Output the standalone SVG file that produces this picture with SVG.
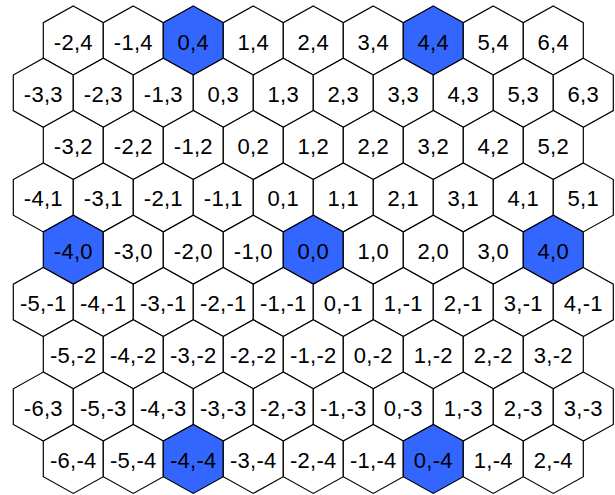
<svg xmlns="http://www.w3.org/2000/svg" xmlns:xlink="http://www.w3.org/1999/xlink" width="615" height="495" viewBox="0 0 615 495">
<style>
.h{fill:#ffffff;stroke:#000000;stroke-width:1.2;stroke-linejoin:miter}
.b{fill:#3366ff}
text{font-family:"Liberation Sans",Arial,sans-serif;font-size:22px;letter-spacing:0.3px;fill:#000000;text-anchor:middle}
</style>
<defs>
<polygon id="hex" points="0,-34.5 30,-17.8 30,17.8 0,34.5 -30,17.8 -30,-17.8"/>
</defs>
<rect width="615" height="495" fill="#ffffff"/>
<g id="connectors"></g>
<g id="row0">
<g id="n_m2_4" transform="translate(73.3,40.5)"><use class="h" xlink:href="#hex"/><text y="9">-2,4</text></g>
<g id="n_m1_4" transform="translate(133.3,40.5)"><use class="h" xlink:href="#hex"/><text y="9">-1,4</text></g>
<g id="n_0_4" transform="translate(193.3,40.5)"><use class="h b" xlink:href="#hex"/><text y="9">0,4</text></g>
<g id="n_1_4" transform="translate(253.3,40.5)"><use class="h" xlink:href="#hex"/><text y="9">1,4</text></g>
<g id="n_2_4" transform="translate(313.3,40.5)"><use class="h" xlink:href="#hex"/><text y="9">2,4</text></g>
<g id="n_3_4" transform="translate(373.3,40.5)"><use class="h" xlink:href="#hex"/><text y="9">3,4</text></g>
<g id="n_4_4" transform="translate(433.3,40.5)"><use class="h b" xlink:href="#hex"/><text y="9">4,4</text></g>
<g id="n_5_4" transform="translate(493.3,40.5)"><use class="h" xlink:href="#hex"/><text y="9">5,4</text></g>
<g id="n_6_4" transform="translate(553.3,40.5)"><use class="h" xlink:href="#hex"/><text y="9">6,4</text></g>
</g>
<g id="row1">
<g id="n_m3_3" transform="translate(43.3,92.8)"><use class="h" xlink:href="#hex"/><text y="9">-3,3</text></g>
<g id="n_m2_3" transform="translate(103.3,92.8)"><use class="h" xlink:href="#hex"/><text y="9">-2,3</text></g>
<g id="n_m1_3" transform="translate(163.3,92.8)"><use class="h" xlink:href="#hex"/><text y="9">-1,3</text></g>
<g id="n_0_3" transform="translate(223.3,92.8)"><use class="h" xlink:href="#hex"/><text y="9">0,3</text></g>
<g id="n_1_3" transform="translate(283.3,92.8)"><use class="h" xlink:href="#hex"/><text y="9">1,3</text></g>
<g id="n_2_3" transform="translate(343.3,92.8)"><use class="h" xlink:href="#hex"/><text y="9">2,3</text></g>
<g id="n_3_3" transform="translate(403.3,92.8)"><use class="h" xlink:href="#hex"/><text y="9">3,3</text></g>
<g id="n_4_3" transform="translate(463.3,92.8)"><use class="h" xlink:href="#hex"/><text y="9">4,3</text></g>
<g id="n_5_3" transform="translate(523.3,92.8)"><use class="h" xlink:href="#hex"/><text y="9">5,3</text></g>
<g id="n_6_3" transform="translate(583.3,92.8)"><use class="h" xlink:href="#hex"/><text y="9">6,3</text></g>
</g>
<g id="row2">
<g id="n_m3_2" transform="translate(73.3,145.1)"><use class="h" xlink:href="#hex"/><text y="9">-3,2</text></g>
<g id="n_m2_2" transform="translate(133.3,145.1)"><use class="h" xlink:href="#hex"/><text y="9">-2,2</text></g>
<g id="n_m1_2" transform="translate(193.3,145.1)"><use class="h" xlink:href="#hex"/><text y="9">-1,2</text></g>
<g id="n_0_2" transform="translate(253.3,145.1)"><use class="h" xlink:href="#hex"/><text y="9">0,2</text></g>
<g id="n_1_2" transform="translate(313.3,145.1)"><use class="h" xlink:href="#hex"/><text y="9">1,2</text></g>
<g id="n_2_2" transform="translate(373.3,145.1)"><use class="h" xlink:href="#hex"/><text y="9">2,2</text></g>
<g id="n_3_2" transform="translate(433.3,145.1)"><use class="h" xlink:href="#hex"/><text y="9">3,2</text></g>
<g id="n_4_2" transform="translate(493.3,145.1)"><use class="h" xlink:href="#hex"/><text y="9">4,2</text></g>
<g id="n_5_2" transform="translate(553.3,145.1)"><use class="h" xlink:href="#hex"/><text y="9">5,2</text></g>
</g>
<g id="row3">
<g id="n_m4_1" transform="translate(43.3,197.4)"><use class="h" xlink:href="#hex"/><text y="9">-4,1</text></g>
<g id="n_m3_1" transform="translate(103.3,197.4)"><use class="h" xlink:href="#hex"/><text y="9">-3,1</text></g>
<g id="n_m2_1" transform="translate(163.3,197.4)"><use class="h" xlink:href="#hex"/><text y="9">-2,1</text></g>
<g id="n_m1_1" transform="translate(223.3,197.4)"><use class="h" xlink:href="#hex"/><text y="9">-1,1</text></g>
<g id="n_0_1" transform="translate(283.3,197.4)"><use class="h" xlink:href="#hex"/><text y="9">0,1</text></g>
<g id="n_1_1" transform="translate(343.3,197.4)"><use class="h" xlink:href="#hex"/><text y="9">1,1</text></g>
<g id="n_2_1" transform="translate(403.3,197.4)"><use class="h" xlink:href="#hex"/><text y="9">2,1</text></g>
<g id="n_3_1" transform="translate(463.3,197.4)"><use class="h" xlink:href="#hex"/><text y="9">3,1</text></g>
<g id="n_4_1" transform="translate(523.3,197.4)"><use class="h" xlink:href="#hex"/><text y="9">4,1</text></g>
<g id="n_5_1" transform="translate(583.3,197.4)"><use class="h" xlink:href="#hex"/><text y="9">5,1</text></g>
</g>
<g id="row4">
<g id="n_m4_0" transform="translate(73.3,249.7)"><use class="h b" xlink:href="#hex"/><text y="9">-4,0</text></g>
<g id="n_m3_0" transform="translate(133.3,249.7)"><use class="h" xlink:href="#hex"/><text y="9">-3,0</text></g>
<g id="n_m2_0" transform="translate(193.3,249.7)"><use class="h" xlink:href="#hex"/><text y="9">-2,0</text></g>
<g id="n_m1_0" transform="translate(253.3,249.7)"><use class="h" xlink:href="#hex"/><text y="9">-1,0</text></g>
<g id="n_0_0" transform="translate(313.3,249.7)"><use class="h b" xlink:href="#hex"/><text y="9">0,0</text></g>
<g id="n_1_0" transform="translate(373.3,249.7)"><use class="h" xlink:href="#hex"/><text y="9">1,0</text></g>
<g id="n_2_0" transform="translate(433.3,249.7)"><use class="h" xlink:href="#hex"/><text y="9">2,0</text></g>
<g id="n_3_0" transform="translate(493.3,249.7)"><use class="h" xlink:href="#hex"/><text y="9">3,0</text></g>
<g id="n_4_0" transform="translate(553.3,249.7)"><use class="h b" xlink:href="#hex"/><text y="9">4,0</text></g>
</g>
<g id="row5">
<g id="n_m5_m1" transform="translate(43.3,302)"><use class="h" xlink:href="#hex"/><text y="9">-5,-1</text></g>
<g id="n_m4_m1" transform="translate(103.3,302)"><use class="h" xlink:href="#hex"/><text y="9">-4,-1</text></g>
<g id="n_m3_m1" transform="translate(163.3,302)"><use class="h" xlink:href="#hex"/><text y="9">-3,-1</text></g>
<g id="n_m2_m1" transform="translate(223.3,302)"><use class="h" xlink:href="#hex"/><text y="9">-2,-1</text></g>
<g id="n_m1_m1" transform="translate(283.3,302)"><use class="h" xlink:href="#hex"/><text y="9">-1,-1</text></g>
<g id="n_0_m1" transform="translate(343.3,302)"><use class="h" xlink:href="#hex"/><text y="9">0,-1</text></g>
<g id="n_1_m1" transform="translate(403.3,302)"><use class="h" xlink:href="#hex"/><text y="9">1,-1</text></g>
<g id="n_2_m1" transform="translate(463.3,302)"><use class="h" xlink:href="#hex"/><text y="9">2,-1</text></g>
<g id="n_3_m1" transform="translate(523.3,302)"><use class="h" xlink:href="#hex"/><text y="9">3,-1</text></g>
<g id="n_4_m1" transform="translate(583.3,302)"><use class="h" xlink:href="#hex"/><text y="9">4,-1</text></g>
</g>
<g id="row6">
<g id="n_m5_m2" transform="translate(73.3,354.3)"><use class="h" xlink:href="#hex"/><text y="9">-5,-2</text></g>
<g id="n_m4_m2" transform="translate(133.3,354.3)"><use class="h" xlink:href="#hex"/><text y="9">-4,-2</text></g>
<g id="n_m3_m2" transform="translate(193.3,354.3)"><use class="h" xlink:href="#hex"/><text y="9">-3,-2</text></g>
<g id="n_m2_m2" transform="translate(253.3,354.3)"><use class="h" xlink:href="#hex"/><text y="9">-2,-2</text></g>
<g id="n_m1_m2" transform="translate(313.3,354.3)"><use class="h" xlink:href="#hex"/><text y="9">-1,-2</text></g>
<g id="n_0_m2" transform="translate(373.3,354.3)"><use class="h" xlink:href="#hex"/><text y="9">0,-2</text></g>
<g id="n_1_m2" transform="translate(433.3,354.3)"><use class="h" xlink:href="#hex"/><text y="9">1,-2</text></g>
<g id="n_2_m2" transform="translate(493.3,354.3)"><use class="h" xlink:href="#hex"/><text y="9">2,-2</text></g>
<g id="n_3_m2" transform="translate(553.3,354.3)"><use class="h" xlink:href="#hex"/><text y="9">3,-2</text></g>
</g>
<g id="row7">
<g id="n_m6_3" transform="translate(43.3,406.6)"><use class="h" xlink:href="#hex"/><text y="9">-6,3</text></g>
<g id="n_m5_m3" transform="translate(103.3,406.6)"><use class="h" xlink:href="#hex"/><text y="9">-5,-3</text></g>
<g id="n_m4_m3" transform="translate(163.3,406.6)"><use class="h" xlink:href="#hex"/><text y="9">-4,-3</text></g>
<g id="n_m3_m3" transform="translate(223.3,406.6)"><use class="h" xlink:href="#hex"/><text y="9">-3,-3</text></g>
<g id="n_m2_m3" transform="translate(283.3,406.6)"><use class="h" xlink:href="#hex"/><text y="9">-2,-3</text></g>
<g id="n_m1_m3" transform="translate(343.3,406.6)"><use class="h" xlink:href="#hex"/><text y="9">-1,-3</text></g>
<g id="n_0_m3" transform="translate(403.3,406.6)"><use class="h" xlink:href="#hex"/><text y="9">0,-3</text></g>
<g id="n_1_m3" transform="translate(463.3,406.6)"><use class="h" xlink:href="#hex"/><text y="9">1,-3</text></g>
<g id="n_2_m3" transform="translate(523.3,406.6)"><use class="h" xlink:href="#hex"/><text y="9">2,-3</text></g>
<g id="n_3_m3" transform="translate(583.3,406.6)"><use class="h" xlink:href="#hex"/><text y="9">3,-3</text></g>
</g>
<g id="row8">
<g id="n_m6_m4" transform="translate(73.3,458.9)"><use class="h" xlink:href="#hex"/><text y="9">-6,-4</text></g>
<g id="n_m5_m4" transform="translate(133.3,458.9)"><use class="h" xlink:href="#hex"/><text y="9">-5,-4</text></g>
<g id="n_m4_m4" transform="translate(193.3,458.9)"><use class="h b" xlink:href="#hex"/><text y="9">-4,-4</text></g>
<g id="n_m3_m4" transform="translate(253.3,458.9)"><use class="h" xlink:href="#hex"/><text y="9">-3,-4</text></g>
<g id="n_m2_m4" transform="translate(313.3,458.9)"><use class="h" xlink:href="#hex"/><text y="9">-2,-4</text></g>
<g id="n_m1_m4" transform="translate(373.3,458.9)"><use class="h" xlink:href="#hex"/><text y="9">-1,-4</text></g>
<g id="n_0_m4" transform="translate(433.3,458.9)"><use class="h b" xlink:href="#hex"/><text y="9">0,-4</text></g>
<g id="n_1_m4" transform="translate(493.3,458.9)"><use class="h" xlink:href="#hex"/><text y="9">1,-4</text></g>
<g id="n_2_m4" transform="translate(553.3,458.9)"><use class="h" xlink:href="#hex"/><text y="9">2,-4</text></g>
</g>
</svg>
